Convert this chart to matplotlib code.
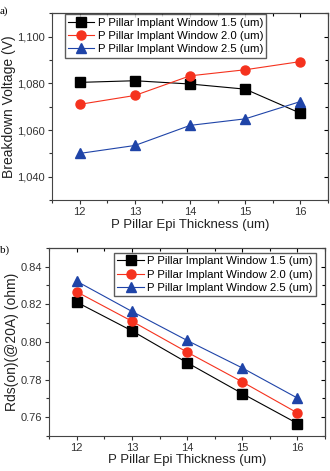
import matplotlib
matplotlib.use('Agg')
import matplotlib.pyplot as plt
from matplotlib.ticker import MultipleLocator, FuncFormatter

plt.rcParams['font.family'] = ['Liberation Sans', 'DejaVu Sans']

# data
thickness = [12, 13, 14, 15, 16]
labels = ['P Pillar Implant Window 1.5 (um)',
          'P Pillar Implant Window 2.0 (um)',
          'P Pillar Implant Window 2.5 (um)']

bv_15 = [1080.4, 1081.1, 1079.7, 1077.5, 1067.2]
bv_20 = [1071.0, 1074.8, 1083.2, 1085.8, 1089.3]
bv_25 = [1050.0, 1053.4, 1062.0, 1064.8, 1072.2]

rds_15 = [0.8211, 0.8059, 0.7890, 0.7726, 0.7567]
rds_20 = [0.8266, 0.8110, 0.7946, 0.7788, 0.7623]
rds_25 = [0.8322, 0.8162, 0.8008, 0.7862, 0.7702]

colors = ['black', '#f5321e', '#1f44a8']
markers = ['s', 'o', '^']


def style_axes(ax, major, minor):
    ax.set_xlim(11.5, 16.5)
    ax.xaxis.set_major_locator(MultipleLocator(1))
    ax.xaxis.set_minor_locator(MultipleLocator(0.5))
    ax.yaxis.set_major_locator(MultipleLocator(major))
    ax.yaxis.set_minor_locator(MultipleLocator(minor))
    ax.tick_params(which='both', direction='out', labelsize=8, colors='#333333',
                   top=False, right=False, width=0.8, pad=2)
    ax.tick_params(which='major', length=3)
    ax.tick_params(which='minor', length=2)
    # mirrored ticks pointing inward on top/right
    secx = ax.secondary_xaxis('top')
    secx.xaxis.set_major_locator(MultipleLocator(1))
    secx.xaxis.set_minor_locator(MultipleLocator(0.5))
    secx.tick_params(which='both', direction='in', labeltop=False, width=0.8)
    secx.tick_params(which='major', length=3)
    secx.tick_params(which='minor', length=2)
    secy = ax.secondary_yaxis('right')
    secy.yaxis.set_major_locator(MultipleLocator(major))
    secy.yaxis.set_minor_locator(MultipleLocator(minor))
    secy.tick_params(which='both', direction='in', labelright=False, width=0.8)
    secy.tick_params(which='major', length=3)
    secy.tick_params(which='minor', length=2)
    for s in ax.spines.values():
        s.set_color('#444444')
        s.set_linewidth(0.8)
    ax.set_xlabel('P Pillar Epi Thickness (um)', fontsize=9.5, labelpad=1, color='#222222')


leg_kw = dict(fontsize=8.2, frameon=True, fancybox=False, edgecolor='#333333',
              handlelength=2.3, handletextpad=0.3, borderpad=0.3, labelspacing=0.3)

fig = plt.figure(figsize=(3.3, 4.71), dpi=100)

ax1 = fig.add_axes([0.158, 0.575, 0.836, 0.397])
for y, c, m, lab in zip([bv_15, bv_20, bv_25], colors, markers, labels):
    ax1.plot(thickness, y, color=c, marker=m, markersize=6.5, linewidth=0.8, label=lab)
ax1.set_ylim(1030, 1110)
style_axes(ax1, 20, 10)
ax1.yaxis.set_major_formatter(FuncFormatter(lambda v, p: '{:,.0f}'.format(v)))
ax1.set_ylabel('Breakdown Voltage (V)', fontsize=10, labelpad=1, color='#222222')
ax1.legend(loc='upper left', bbox_to_anchor=(0.045, 0.995), borderaxespad=0, **leg_kw)
fig.text(0.0, 0.977, 'a)', fontsize=8, family='Liberation Serif', va='center')

ax2 = fig.add_axes([0.149, 0.074, 0.836, 0.400])
for y, c, m, lab in zip([rds_15, rds_20, rds_25], colors, markers, labels):
    ax2.plot(thickness, y, color=c, marker=m, markersize=6.5, linewidth=0.8, label=lab)
ax2.set_ylim(0.75, 0.85)
style_axes(ax2, 0.02, 0.01)
ax2.yaxis.set_major_formatter(FuncFormatter(lambda v, p: '{:.2f}'.format(v)))
ax2.set_ylabel('Rds(on)(@20A) (ohm)', fontsize=10, labelpad=1, color='#222222')
ax2.legend(loc='upper right', bbox_to_anchor=(0.967, 0.973), borderaxespad=0, **leg_kw)
fig.text(0.0, 0.469, 'b)', fontsize=8, family='Liberation Serif', va='center')

fig.savefig('out.png', dpi=100)
